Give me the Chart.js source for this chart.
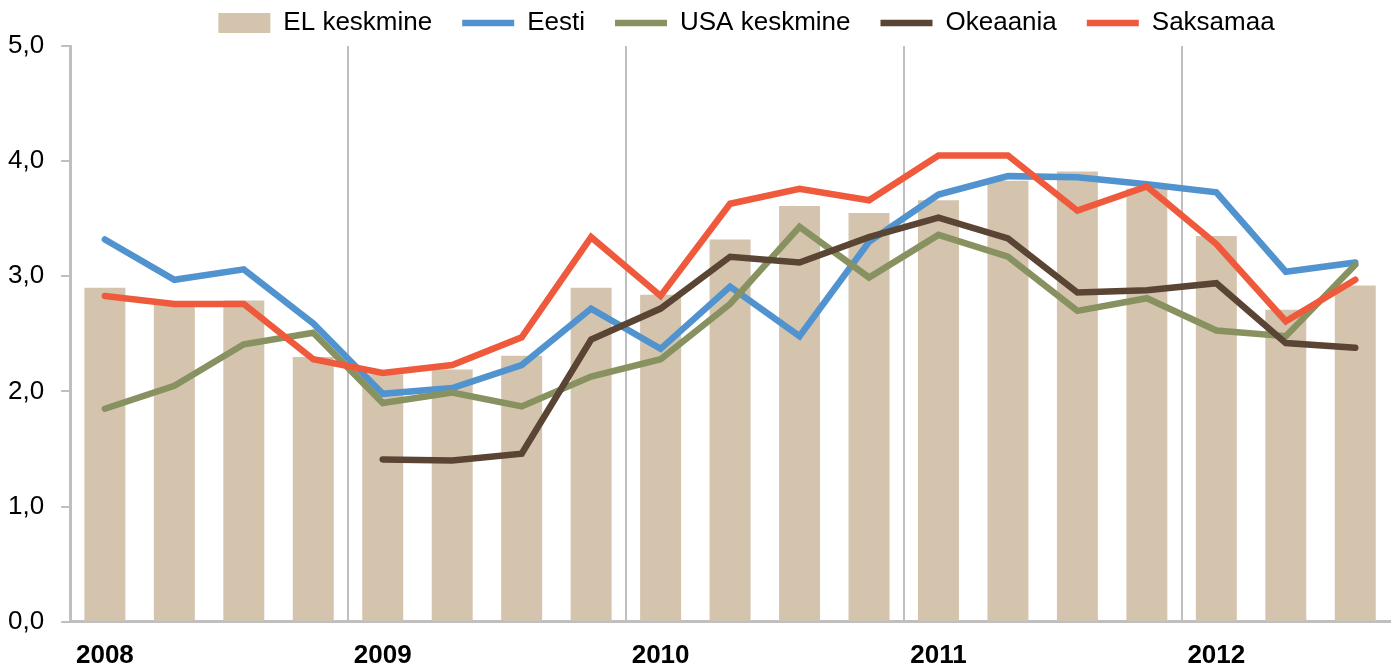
<!DOCTYPE html>
<html>
<head>
<meta charset="utf-8">
<script src="https://cdn.jsdelivr.net/npm/chart.js@4/dist/chart.umd.min.js"></script>
<style>
  html, body { margin: 0; padding: 0; background: #fff; }
  #wrap { width: 1400px; height: 668px; position: relative; }
</style>
</head>
<body>
<div id="wrap"><canvas id="chart"></canvas></div>
<script>
// kvartalid 2008 I ... 2012 III
const quarters = [
  '2008 I', '2008 II', '2008 III', '2008 IV',
  '2009 I', '2009 II', '2009 III', '2009 IV',
  '2010 I', '2010 II', '2010 III', '2010 IV',
  '2011 I', '2011 II', '2011 III', '2011 IV',
  '2012 I', '2012 II', '2012 III'
];

const elKeskmine = [2.90, 2.77, 2.79, 2.30, 2.15, 2.19, 2.31, 2.90, 2.84, 3.32, 3.61, 3.55, 3.66, 3.83, 3.91, 3.76, 3.35, 2.71, 2.92];
const eesti      = [3.32, 2.97, 3.06, 2.59, 1.98, 2.03, 2.23, 2.72, 2.37, 2.91, 2.48, 3.30, 3.71, 3.87, 3.86, 3.80, 3.73, 3.04, 3.12];
const usa        = [1.85, 2.05, 2.41, 2.51, 1.90, 1.99, 1.87, 2.13, 2.28, 2.76, 3.43, 2.99, 3.36, 3.17, 2.70, 2.81, 2.53, 2.48, 3.10];
const okeaania   = [null, null, null, null, 1.41, 1.40, 1.46, 2.45, 2.72, 3.17, 3.12, 3.34, 3.51, 3.33, 2.86, 2.88, 2.94, 2.42, 2.38];
const saksamaa   = [2.83, 2.76, 2.76, 2.28, 2.16, 2.23, 2.47, 3.34, 2.83, 3.63, 3.76, 3.66, 4.05, 4.05, 3.57, 3.78, 3.28, 2.61, 2.97];

const yTicks = [0, 1, 2, 3, 4, 5];

const axisGray = '#BFBFBF';
Chart.defaults.font.family = '"Liberation Sans", Arial, sans-serif';
Chart.defaults.color = '#000';

function lineSet(label, data, color, order) {
  return {
    type: 'line',
    label: label,
    data: data,
    borderColor: color,
    backgroundColor: color,
    borderWidth: 6.5,
    pointRadius: 0,
    pointHoverRadius: 0,
    tension: 0,
    borderCapStyle: 'round',
    spanGaps: false,
    pointStyle: 'line',
    order: order
  };
}

// legend nihutamine ülespoole (Excel-stiilis)
const legendShift = {
  id: 'legendShift',
  afterLayout(chart) {
    const lg = chart.legend;
    if (!lg) return;
    lg.top -= 20;
    lg.left += 56;
    lg.right += 56;
  }
};

new Chart(document.getElementById('chart'), {
  type: 'bar',
  data: {
    labels: quarters,
    datasets: [
      {
        label: 'EL keskmine',
        data: elKeskmine,
        backgroundColor: '#D5C4AD',
        borderWidth: 0,
        barPercentage: 0.59,
        categoryPercentage: 1,
        pointStyle: 'rect',
        order: 10
      },
      lineSet('Eesti', eesti, '#5193CE', 4),
      lineSet('USA keskmine', usa, '#879260', 3),
      lineSet('Okeaania', okeaania, '#5A4535', 2),
      lineSet('Saksamaa', saksamaa, '#EF5A3D', 1)
    ]
  },
  plugins: [legendShift],
  options: {
    responsive: true,
    maintainAspectRatio: false,
    animation: false,
    layout: { padding: { left: -9, right: 10, top: 0, bottom: -21 } },
    plugins: {
      legend: {
        position: 'top',
        maxHeight: 46,
        labels: {
          usePointStyle: true,
          pointStyleWidth: 52,
          boxHeight: 20,
          padding: 30,
          font: { size: 26 },
          color: '#000',
          sort: function(a, b) { return a.datasetIndex - b.datasetIndex; }
        }
      },
      tooltip: { enabled: false }
    },
    scales: {
      x: {
        offset: true,
        grid: {
          offset: true,
          drawTicks: false,
          lineWidth: 2,
          color: function(ctx) {
            return ctx.index % 4 === 0 ? axisGray : 'rgba(0,0,0,0)';
          }
        },
        border: { color: axisGray, width: 3 },
        ticks: {
          autoSkip: false,
          maxRotation: 0,
          padding: 18,
          font: { size: 26, weight: 'bold' },
          callback: function(value, index) {
            return index % 4 === 0 ? quarters[index].slice(0, 4) : '';
          }
        }
      },
      y: {
        min: 0,
        max: 5,
        afterBuildTicks: function(axis) {
          axis.ticks = yTicks.map(function(v) { return { value: v }; });
        },
        grid: {
          drawOnChartArea: false,
          drawTicks: true,
          tickLength: 9,
          color: axisGray,
          lineWidth: 2
        },
        border: { color: axisGray, width: 3 },
        ticks: {
          padding: 17,
          font: { size: 26 },
          callback: function(v) { return v.toFixed(1).replace('.', ','); }
        }
      }
    }
  }
});
</script>
</body>
</html>
